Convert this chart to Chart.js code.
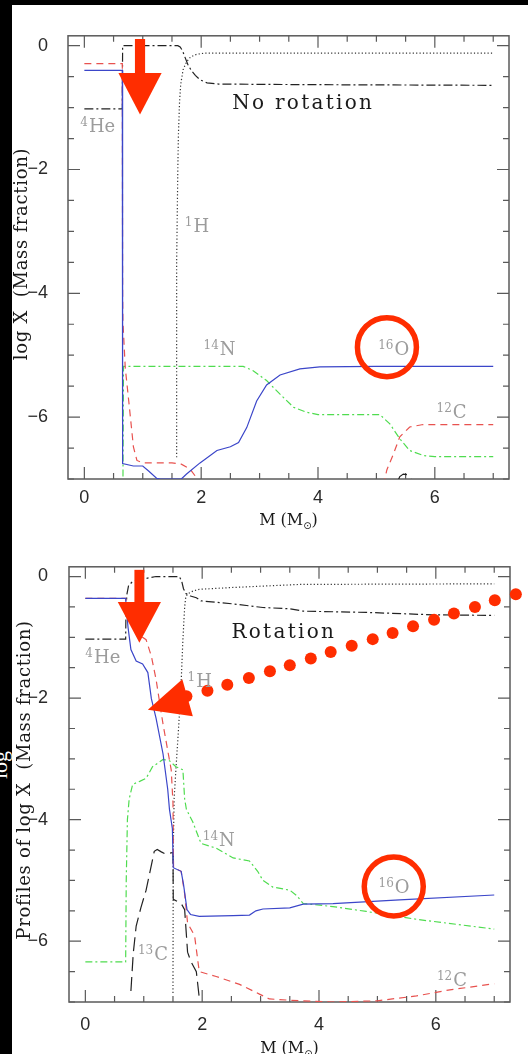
<!DOCTYPE html>
<html>
<head>
<meta charset="utf-8">
<script src="https://cdn.jsdelivr.net/npm/chart.js@4.4.1/dist/chart.umd.min.js"></script>
<style>
  html, body { margin: 0; padding: 0; background: #000; }
  body { position: relative; width: 528px; height: 1054px; overflow: hidden; }
  canvas { position: absolute; background: #fff; }
  #noRot { left: 12px; top: 5px; }
  #rot { left: 12px; top: 535px; }
  .edge { position: absolute; left: -14px; top: 752px; color: #fff; font: 22px "Liberation Serif"; transform: rotate(-90deg); }
</style>
</head>
<body>
<div class="edge">log</div>
<canvas id="noRot" width="516" height="530"></canvas>
<canvas id="rot" width="516" height="519"></canvas>
<script>
// axes: mass coordinate M (Msun) and log mass fraction
const mTicks = [0, 0.5, 1, 1.5, 2, 2.5, 3, 3.5, 4, 4.5, 5, 5.5, 6, 6.5, 7];
const mLabels = [0, 2, 4, 6];
const logTicks = [0, -0.5, -1, -1.5, -2, -2.5, -3, -3.5, -4, -4.5, -5, -5.5, -6, -6.5, -7];
const logLabels = [0, -2, -4, -6];

// ---- no rotation model: [M, log X] ----
const noRotH = [[1.58, -6.65], [1.58, -3.5], [1.60, -2.0], [1.61, -1.45], [1.63, -0.9], [1.65, -0.62],
  [1.69, -0.39], [1.75, -0.26], [1.82, -0.18], [1.92, -0.14], [2.05, -0.12], [4.0, -0.12], [7.0, -0.12]];
const noRotHe = [[0, -1.02], [0.65, -1.02], [0.655, 0], [1.6, 0], [1.64, -0.02], [1.68, -0.08], [1.72, -0.18],
  [1.77, -0.3], [1.83, -0.4], [1.9, -0.48], [1.98, -0.55], [2.1, -0.6], [2.3, -0.62], [4.0, -0.63], [7.0, -0.64]];
const noRotC12 = [[0, -0.29], [0.65, -0.29], [0.655, -4.0], [0.66, -4.45], [0.7, -5.2], [0.76, -5.74],
  [0.84, -6.48], [0.9, -6.7], [1.0, -6.74], [1.5, -6.74], [1.66, -6.76], [1.81, -6.84], [1.92, -6.98], [1.97, -7.1],
  [3.5, null],
  [5.12, -7.1], [5.18, -6.85], [5.29, -6.6], [5.4, -6.32], [5.57, -6.16], [5.8, -6.12], [7.0, -6.12]];
const noRotN14 = [[0.66, -7.2], [0.67, -5.18], [2.72, -5.18], [2.89, -5.25], [3.12, -5.41], [3.35, -5.63],
  [3.58, -5.84], [3.8, -5.92], [4.0, -5.96], [5.06, -5.96], [5.23, -6.11], [5.4, -6.35], [5.57, -6.54],
  [5.8, -6.62], [6.0, -6.64], [7.0, -6.64]];
const noRotO16 = [[0, -0.40], [0.65, -0.40], [0.655, -6.75], [0.84, -6.79], [1.0, -6.79], [1.1, -6.87],
  [1.24, -6.99], [1.3, -7.0], [1.66, -7.0], [1.75, -6.92], [1.98, -6.74], [2.27, -6.54], [2.5, -6.48],
  [2.64, -6.41], [2.78, -6.17], [2.95, -5.74], [3.12, -5.48], [3.35, -5.32], [3.69, -5.22], [4.03, -5.19],
  [5.0, -5.18], [7.0, -5.18]];
const noRotC13 = [[5.36, -7.05], [5.40, -6.96], [5.46, -6.92], [5.53, -6.93], [5.58, -6.98], [5.61, -7.05]];

// ---- rotating model ----
const rotH = [[1.50, -6.85], [1.505, -4.5], [1.52, -3.65], [1.55, -3.18], [1.60, -2.43], [1.64, -1.74],
  [1.67, -1.04], [1.70, -0.5], [1.72, -0.33], [1.76, -0.28], [1.84, -0.24], [1.95, -0.21], [2.53, -0.18],
  [3.67, -0.13], [7.0, -0.12]];
const rotHe = [[0, -1.03], [0.69, -1.03], [0.695, -0.6], [0.71, -0.3], [0.74, -0.15], [0.8, -0.09],
  [0.93, -0.05], [1.21, 0.0], [1.61, 0.0], [1.65, -0.08], [1.68, -0.2], [1.72, -0.28], [1.8, -0.32],
  [1.9, -0.35], [1.98, -0.40], [2.53, -0.45], [3.04, -0.51], [3.5, -0.53], [3.73, -0.57], [4.81, -0.59],
  [5.95, -0.63], [7.0, -0.64]];
const rotC12 = [[0, -0.36], [0.69, -0.36], [0.72, -0.55], [0.8, -0.82], [0.9, -0.95], [1.04, -1.04],
  [1.13, -1.31], [1.21, -1.69], [1.33, -2.43], [1.41, -2.86], [1.47, -3.18], [1.50, -3.72], [1.51, -4.79],
  [1.64, -4.85], [1.70, -5.22], [1.75, -5.7], [1.87, -5.91], [1.95, -6.5], [2.24, -6.58], [2.64, -6.71],
  [2.98, -6.87], [3.15, -6.95], [3.67, -6.98], [4.24, -7.0], [5.0, -6.98], [5.67, -6.9], [6.24, -6.8], [7.0, -6.7]];
const rotN14 = [[0, -6.34], [0.69, -6.34], [0.70, -5.0], [0.72, -4.0], [0.75, -3.66], [0.81, -3.42],
  [0.93, -3.37], [1.04, -3.32], [1.15, -3.13], [1.33, -3.01], [1.44, -3.03], [1.55, -3.13], [1.67, -3.18],
  [1.70, -3.66], [1.73, -3.83], [1.84, -4.04], [1.98, -4.39], [2.24, -4.47], [2.53, -4.63], [2.81, -4.68],
  [2.95, -4.85], [3.04, -5.0], [3.21, -5.11], [3.5, -5.16], [3.62, -5.25], [3.73, -5.38], [4.24, -5.43],
  [4.81, -5.51], [5.67, -5.64], [7.0, -5.8]];
const rotO16 = [[0, -0.36], [0.69, -0.36], [0.70, -0.5], [0.73, -0.83], [0.78, -1.2], [0.87, -1.39],
  [0.98, -1.44], [1.07, -1.58], [1.13, -2.01], [1.21, -2.33], [1.33, -2.92], [1.41, -3.5], [1.44, -3.83],
  [1.49, -4.15], [1.505, -4.79], [1.64, -4.85], [1.68, -5.06], [1.74, -5.48], [1.8, -5.56], [1.95, -5.59],
  [2.53, -5.58], [2.81, -5.57], [2.92, -5.5], [3.04, -5.47], [3.5, -5.45], [3.73, -5.39], [4.24, -5.38],
  [5.38, -5.32], [7.0, -5.24]];
const rotC13 = [[0.78, -6.82], [0.82, -6.2], [0.87, -5.75], [0.95, -5.45], [1.04, -5.16], [1.18, -4.52],
  [1.23, -4.49], [1.3, -4.53], [1.38, -4.57], [1.45, -4.55], [1.5, -4.54], [1.505, -5.31], [1.64, -5.38],
  [1.7, -5.48], [1.75, -6.18], [1.81, -6.34], [1.9, -6.5], [1.95, -6.93]];

// dotted pointer in the lower panel
const rotDots = [[1.73, -1.97], [2.09, -1.88], [2.43, -1.78], [2.80, -1.67], [3.16, -1.56], [3.50, -1.46],
  [3.86, -1.35], [4.20, -1.24], [4.56, -1.14], [4.92, -1.03], [5.26, -0.93], [5.61, -0.82], [5.97, -0.71],
  [6.31, -0.61], [6.67, -0.50], [7.01, -0.39], [7.37, -0.29]];

const RED = '#ff2d00';
const BLUE = '#3b46c9';
const PINK = '#e8524f';
const GREEN = '#4fdc4f';
const SERIF = '"DejaVu Serif"';

function curve(data, color, dash) {
  return {
    data: data,
    borderColor: color,
    borderDash: dash,
    borderWidth: 1.2,
    pointRadius: 0,
    tension: 0,
    fill: false,
    spanGaps: false
  };
}

function minus(v) {
  return v < 0 ? '\u2212' + Math.abs(v) : String(v);
}

function text(ctx, str, x, y, font, spacing) {
  ctx.font = font;
  ctx.letterSpacing = (spacing || 0) + 'px';
  ctx.fillText(str, x, y);
  ctx.letterSpacing = '0px';
}

function isotope(ctx, x, y, mass, sym) {
  ctx.textAlign = 'left';
  text(ctx, mass, x, y - 6, '12px ' + SERIF);
  ctx.font = '12px ' + SERIF;
  const w = ctx.measureText(mass).width;
  text(ctx, sym, x + w + 1, y, '18px ' + SERIF);
}

// box with inward ticks on all four sides
const frame = {
  id: 'frame',
  beforeDatasetsDraw(chart) {
    const { ctx, chartArea: a, scales: { x, y } } = chart;
    ctx.save();
    ctx.strokeStyle = '#5a5a5a';
    ctx.lineWidth = 1.5;
    ctx.strokeRect(a.left, a.top, a.right - a.left, a.bottom - a.top);
    ctx.lineWidth = 1.2;
    ctx.beginPath();
    x.ticks.forEach(t => {
      const px = x.getPixelForValue(t.value);
      const len = mLabels.includes(t.value) ? 12 : 6;
      ctx.moveTo(px, a.bottom); ctx.lineTo(px, a.bottom - len);
      ctx.moveTo(px, a.top); ctx.lineTo(px, a.top + len);
    });
    y.ticks.forEach(t => {
      const py = y.getPixelForValue(t.value);
      const len = logLabels.includes(t.value) ? 12 : 6;
      ctx.moveTo(a.left, py); ctx.lineTo(a.left + len, py);
      ctx.moveTo(a.right, py); ctx.lineTo(a.right - len, py);
    });
    ctx.stroke();
    ctx.restore();
  }
};

// titles, species labels and the red pointers
const notes = {
  id: 'notes',
  afterDatasetsDraw(chart, args, opts) {
    const { ctx, chartArea: a, scales: { x, y } } = chart;
    ctx.save();
    ctx.textBaseline = 'alphabetic';

    ctx.fillStyle = '#9c9c9c';
    opts.species.forEach(s => isotope(ctx, x.getPixelForValue(s.x), y.getPixelForValue(s.y), s.mass, s.sym));

    ctx.fillStyle = '#1a1a1a';
    ctx.textAlign = 'left';
    text(ctx, opts.name.text, x.getPixelForValue(opts.name.x), y.getPixelForValue(opts.name.y), '20px ' + SERIF, 2.3);

    // x title: M (M_sun)
    const cx = (a.left + a.right) / 2;
    ctx.font = '16px ' + SERIF;
    const w1 = ctx.measureText('M (M').width;
    ctx.font = '10px "DejaVu Sans"';
    const w2 = ctx.measureText('\u2299').width;
    ctx.font = '16px ' + SERIF;
    const w3 = ctx.measureText(')').width;
    let tx = cx - (w1 + w2 + w3) / 2;
    const ty = opts.xTitleY;
    text(ctx, 'M (M', tx, ty, '16px ' + SERIF);
    text(ctx, '\u2299', tx + w1, ty + 4, '10px "DejaVu Sans"');
    text(ctx, ')', tx + w1 + w2, ty, '16px ' + SERIF);

    // y title, rotated
    ctx.save();
    ctx.translate(opts.yTitleX, opts.yTitleY);
    ctx.rotate(-Math.PI / 2);
    ctx.textAlign = 'center';
    ctx.textBaseline = 'middle';
    text(ctx, opts.yTitle, 0, 0, '18px ' + SERIF, 0.7);
    ctx.restore();

    ctx.fillStyle = RED;
    opts.arrows.forEach(r => {
      const l = x.getPixelForValue(r.x - r.shaft), rr = x.getPixelForValue(r.x + r.shaft);
      const top = y.getPixelForValue(r.top), base = y.getPixelForValue(r.base);
      ctx.fillRect(l, top, rr - l, base - top + 1);
      ctx.beginPath();
      ctx.moveTo(x.getPixelForValue(r.x - r.head), base);
      ctx.lineTo(x.getPixelForValue(r.x + r.head), base);
      ctx.lineTo(x.getPixelForValue(r.x), y.getPixelForValue(r.tip));
      ctx.closePath();
      ctx.fill();
    });
    opts.heads.forEach(h => {
      ctx.beginPath();
      h.forEach((p, i) => {
        const px = x.getPixelForValue(p[0]), py = y.getPixelForValue(p[1]);
        if (i === 0) ctx.moveTo(px, py); else ctx.lineTo(px, py);
      });
      ctx.closePath();
      ctx.fill();
    });
    ctx.strokeStyle = RED;
    ctx.lineWidth = 5.5;
    opts.rings.forEach(c => {
      ctx.beginPath();
      ctx.arc(x.getPixelForValue(c.x), y.getPixelForValue(c.y), c.r, 0, Math.PI * 2);
      ctx.stroke();
    });
    ctx.restore();
  }
};

function scales(tickPadX, tickPadY, axisW, axisH) {
  const tickFont = { family: '"Liberation Sans"', size: 18 };
  return {
    x: {
      type: 'linear', min: -0.28, max: 7.27,
      afterBuildTicks: s => { s.ticks = mTicks.map(v => ({ value: v })); },
      afterFit: s => { s.height = axisH; },
      grid: { display: false, drawTicks: false },
      border: { display: false },
      ticks: {
        autoSkip: false, maxRotation: 0, padding: tickPadX, color: '#2a2a2a', font: tickFont,
        callback: v => mLabels.includes(v) ? minus(v) : ''
      }
    },
    y: {
      type: 'linear', min: -7.0, max: 0.16,
      afterBuildTicks: s => { s.ticks = logTicks.map(v => ({ value: v })); },
      afterFit: s => { s.width = axisW; },
      grid: { display: false, drawTicks: false },
      border: { display: false },
      ticks: {
        autoSkip: false, padding: tickPadY, color: '#2a2a2a', font: tickFont,
        callback: v => logLabels.includes(v) ? minus(v) : ''
      }
    }
  };
}

const base = {
  responsive: false,
  animation: false,
  devicePixelRatio: 1,
  events: []
};

new Chart(document.getElementById('noRot'), {
  type: 'line',
  data: {
    datasets: [
      curve(noRotO16, BLUE, []),
      curve(noRotC12, PINK, [7, 5]),
      curve(noRotN14, GREEN, [7, 3, 2, 3]),
      curve(noRotHe, '#222', [9, 3, 2, 3]),
      curve(noRotH, '#333', [1.2, 2.2]),
      curve(noRotC13, '#222', [14, 6])
    ]
  },
  options: Object.assign({}, base, {
    layout: { padding: { top: 28, right: 19, left: 0, bottom: 0 } },
    scales: scales(8, 20, 56, 56),
    plugins: {
      legend: { display: false },
      tooltip: { enabled: false },
      notes: {
        species: [
          { mass: '4', sym: 'He', x: -0.07, y: -1.39 },
          { mass: '1', sym: 'H', x: 1.72, y: -3.01 },
          { mass: '14', sym: 'N', x: 2.04, y: -5.0 },
          { mass: '16', sym: 'O', x: 5.03, y: -5.0 },
          { mass: '12', sym: 'C', x: 6.03, y: -6.01 }
        ],
        name: { text: 'No rotation', x: 2.53, y: -1.02 },
        xTitleY: 520,
        yTitle: 'log X  (Mass fraction)',
        yTitleX: 10,
        yTitleY: 249,
        arrows: [{ x: 0.953, shaft: 0.087, head: 0.37, top: 0.108, base: -0.44, tip: -1.11 }],
        heads: [],
        rings: [{ x: 5.18, y: -4.87, r: 29.5 }]
      }
    }
  }),
  plugins: [frame, notes]
});

new Chart(document.getElementById('rot'), {
  type: 'line',
  data: {
    datasets: [
      { data: rotDots, showLine: false, pointRadius: 6, pointBorderWidth: 0, pointBackgroundColor: RED, clip: false },
      curve(rotO16, BLUE, []),
      curve(rotC12, PINK, [7, 5]),
      curve(rotN14, GREEN, [7, 3, 2, 3]),
      curve(rotHe, '#222', [9, 3, 2, 3]),
      curve(rotH, '#333', [1.2, 2.2]),
      curve(rotC13, '#222', [14, 6])
    ]
  },
  options: Object.assign({}, base, {
    layout: { padding: { top: 20, right: 18, left: 0, bottom: 0 } },
    scales: scales(12, 21, 57, 52),
    plugins: {
      legend: { display: false },
      tooltip: { enabled: false },
      notes: {
        species: [
          { mass: '4', sym: 'He', x: 0.0, y: -1.43 },
          { mass: '1', sym: 'H', x: 1.75, y: -1.81 },
          { mass: '14', sym: 'N', x: 2.01, y: -4.43 },
          { mass: '16', sym: 'O', x: 5.02, y: -5.2 },
          { mass: '13', sym: 'C', x: 0.9, y: -6.31 },
          { mass: '12', sym: 'C', x: 6.02, y: -6.73 }
        ],
        name: { text: 'Rotation', x: 2.5, y: -1.01 },
        xTitleY: 518,
        yTitle: 'Profiles of log X  (Mass fraction)',
        yTitleX: 13,
        yTitleY: 245,
        arrows: [{ x: 0.925, shaft: 0.085, head: 0.37, top: 0.11, base: -0.42, tip: -1.09 }],
        heads: [[[1.07, -2.19], [1.84, -2.30], [1.66, -1.69]]],
        rings: [{ x: 5.28, y: -5.10, r: 29.5 }]
      }
    }
  }),
  plugins: [frame, notes]
});
</script>
</body>
</html>
